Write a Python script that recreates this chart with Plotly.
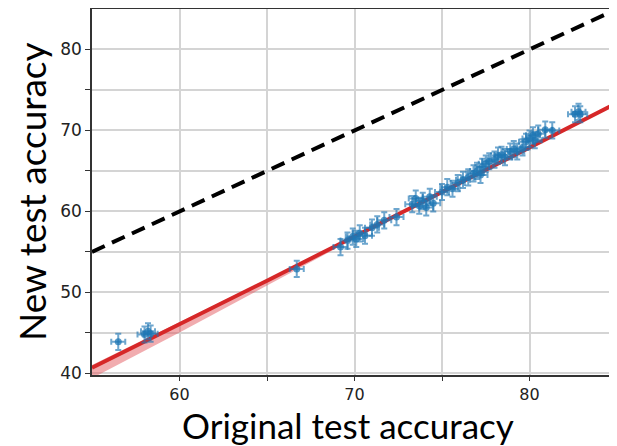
import plotly.graph_objects as go

# ---- data ----
orig_acc = [56.5, 58.0, 58.2, 58.35, 66.7, 69.2, 69.6, 69.9, 70.1, 70.3, 70.6,
            71.0, 71.3, 71.7, 72.4, 73.3, 73.5, 73.7, 73.9, 74.1, 74.3, 74.5,
            75.0, 75.3, 75.6, 75.9, 76.2, 76.5, 76.8, 77.0, 77.2, 77.3, 77.5,
            77.7, 78.0, 78.2, 78.4, 78.6, 78.9, 79.1, 79.3, 79.6, 79.8, 80.0,
            80.2, 80.3, 80.5, 80.9, 81.3, 82.6, 82.8, 82.9]
new_acc = [43.9, 44.8, 45.2, 44.9, 52.9, 55.6, 56.4, 56.9, 56.6, 57.3, 57.0,
           58.0, 58.4, 58.9, 59.3, 60.9, 61.6, 60.7, 61.3, 60.5, 61.8, 61.0,
           62.4, 63.0, 62.8, 63.5, 63.9, 64.2, 64.7, 65.0, 64.5, 65.5, 65.9,
           66.2, 66.4, 66.9, 67.0, 66.7, 67.4, 67.7, 67.4, 67.9, 68.6, 69.0,
           69.4, 68.8, 69.6, 70.1, 70.0, 72.0, 72.3, 72.0]
orig_err = 0.4
new_err = 1.0

fit_x = [55, 60, 65, 70, 75, 80, 85]
fit_y = [40.7, 46.05, 51.45, 56.9, 62.4, 67.9, 73.4]
band_lo = [39.4, 45.05, 50.85, 56.65, 62.25, 67.75, 73.2]
band_hi = [41.05, 46.3, 51.6, 57.0, 62.5, 68.05, 73.6]

ideal = [55, 85]

x_ticks = [60, 65, 70, 75, 80]
x_text = ["60", "", "70", "", "80"]
y_ticks = [40, 45, 50, 55, 60, 65, 70, 75, 80]
y_text = ["40", "", "50", "", "60", "", "70", "", "80"]

# page body has an 8px margin: figure is 609x438 placed at (8, 8)
PAGE_OFF = 8
PL, PT, PW, PH = 92, 9, 525, 366  # plot area in page pixels

fig = go.Figure()

fig.add_trace(go.Scatter(x=fit_x + fit_x[::-1], y=band_hi + band_lo[::-1],
                         fill="toself", fillcolor="rgba(228,90,95,0.5)",
                         line=dict(width=0), mode="lines", hoverinfo="skip",
                         showlegend=False))
fig.add_trace(go.Scatter(x=fit_x, y=fit_y, mode="lines",
                         line=dict(color="#d62728", width=4),
                         showlegend=False))
fig.add_trace(go.Scatter(x=ideal, y=ideal, mode="lines",
                         line=dict(color="black", width=4, dash="14px,8px"),
                         showlegend=False))
fig.add_trace(go.Scatter(
    x=orig_acc, y=new_acc, mode="markers",
    marker=dict(color="rgba(31,119,180,0.75)", size=7),
    error_x=dict(type="constant", value=orig_err, color="rgba(31,119,180,0.65)",
                 thickness=2, width=3),
    error_y=dict(type="constant", value=new_err, color="rgba(31,119,180,0.65)",
                 thickness=2, width=3),
    showlegend=False))

tickfont = dict(family="DejaVu Sans", size=17, color="#222")
fig.update_layout(
    width=617 - PAGE_OFF, height=446 - PAGE_OFF,
    margin=dict(l=PL - PAGE_OFF, r=0, t=PT - PAGE_OFF,
                b=446 - PAGE_OFF - (PT - PAGE_OFF) - PH, pad=0),
    paper_bgcolor="white", plot_bgcolor="white",
    xaxis=dict(range=[55, 85], tickvals=x_ticks, ticktext=x_text,
               ticks="outside", ticklen=4, tickcolor="#333", tickwidth=1.2,
               ticklabelstandoff=0,
               showgrid=True, gridcolor="#d4d4d4", gridwidth=2,
               showline=True, linecolor="#333", linewidth=1.5, mirror=True,
               tickfont=dict(family="DejaVu Sans", size=16, color="#222"),
               zeroline=False),
    yaxis=dict(range=[39.8, 85.0], tickvals=y_ticks, ticktext=y_text,
               ticks="outside", ticklen=5, tickcolor="#333", tickwidth=1.2,
               showgrid=True, gridcolor="#d4d4d4", gridwidth=2,
               showline=True, linecolor="#333", linewidth=1.5,
               tickfont=tickfont, zeroline=False),
    annotations=[
        dict(text="Original test accuracy", xref="paper", yref="paper",
             x=(348 - PL) / PW, y=-(425 - (PT + PH)) / PH, xanchor="center",
             yanchor="middle", showarrow=False,
             font=dict(family="Lato", size=35, color="black")),
        dict(text="New test accuracy", xref="paper", yref="paper",
             x=-(PL - 31) / PW, y=(PT + PH - 192) / PH, xanchor="center",
             yanchor="middle", textangle=-90, showarrow=False,
             font=dict(family="Lato", size=37, color="black")),
    ],
)

fig.write_html("out.html")
